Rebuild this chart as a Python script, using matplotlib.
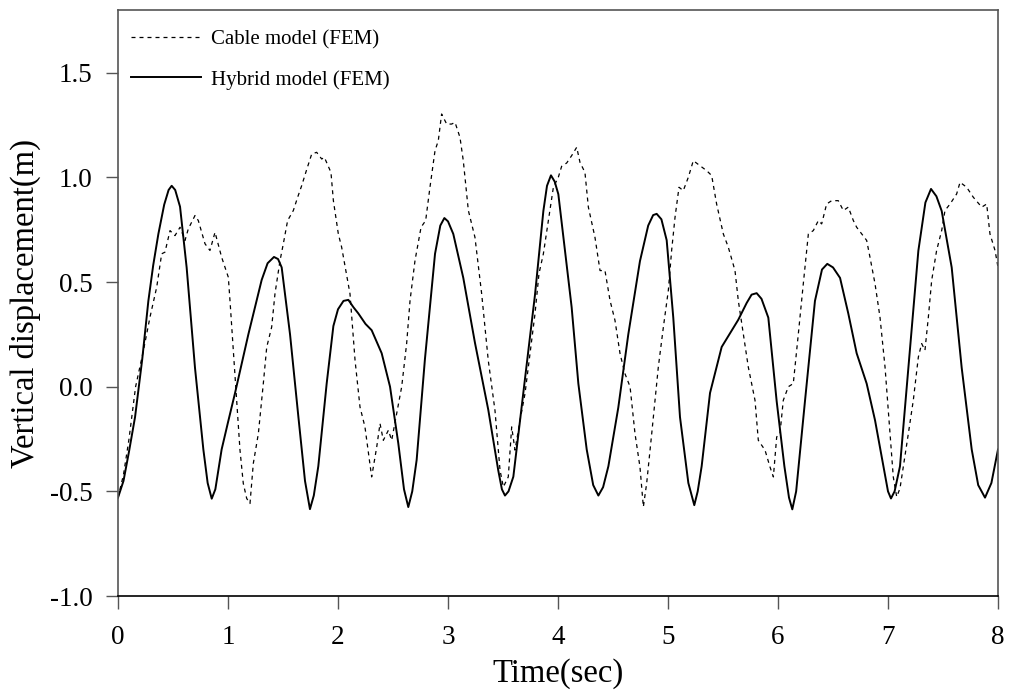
import matplotlib
matplotlib.use("Agg")
import matplotlib.pyplot as plt

plt.rcParams["font.family"] = ["Liberation Serif", "DejaVu Serif"]
plt.rcParams["axes.unicode_minus"] = False

# hybrid model (FEM) response, time [s] / vertical displacement [m]
hybrid_t = [0.00, 0.05, 0.10, 0.155, 0.22, 0.276, 0.32, 0.367, 0.42, 0.46, 0.488, 0.52, 0.564,
            0.624, 0.70, 0.776, 0.815, 0.852, 0.885, 0.942, 1.00, 1.064, 1.185, 1.306, 1.36,
            1.418, 1.455, 1.488, 1.564, 1.64, 1.70, 1.745, 1.78, 1.821, 1.897, 1.958, 2.00,
            2.05, 2.094, 2.14, 2.185, 2.25, 2.306, 2.397, 2.473, 2.548, 2.60, 2.639, 2.675,
            2.715, 2.79, 2.882, 2.93, 2.967, 3.00, 3.048, 3.139, 3.245, 3.366, 3.457, 3.49,
            3.518, 3.55, 3.594, 3.685, 3.791, 3.867, 3.90, 3.936, 3.97, 4.003, 4.064, 4.124,
            4.185, 4.261, 4.32, 4.367, 4.41, 4.458, 4.548, 4.639, 4.745, 4.82, 4.865, 4.897,
            4.94, 4.988, 5.048, 5.109, 5.185, 5.239, 5.27, 5.306, 5.382, 5.488, 5.639, 5.715,
            5.76, 5.806, 5.85, 5.912, 5.988, 6.058, 6.10, 6.13, 6.165, 6.245, 6.336, 6.40,
            6.448, 6.50, 6.564, 6.639, 6.715, 6.806, 6.882, 6.958, 7.00, 7.027, 7.06, 7.109,
            7.185, 7.276, 7.34, 7.391, 7.44, 7.488, 7.579, 7.67, 7.761, 7.82, 7.882, 7.94, 8.00]
hybrid_u = [-0.53, -0.45, -0.31, -0.145, 0.13, 0.41, 0.58, 0.73, 0.87, 0.94, 0.96, 0.94, 0.86,
            0.57, 0.09, -0.30, -0.46, -0.535, -0.49, -0.30, -0.17, -0.03, 0.25, 0.51, 0.59,
            0.62, 0.61, 0.57, 0.25, -0.145, -0.45, -0.585, -0.52, -0.38, 0.015, 0.29, 0.37,
            0.41, 0.415, 0.38, 0.35, 0.30, 0.27, 0.16, 0.00, -0.27, -0.49, -0.575, -0.50,
            -0.35, 0.13, 0.635, 0.77, 0.806, 0.79, 0.73, 0.52, 0.21, -0.11, -0.40, -0.49,
            -0.52, -0.50, -0.43, -0.03, 0.44, 0.84, 0.96, 1.01, 0.98, 0.92, 0.65, 0.38,
            0.015, -0.30, -0.47, -0.52, -0.48, -0.38, -0.10, 0.25, 0.60, 0.77, 0.82, 0.826,
            0.80, 0.70, 0.33, -0.145, -0.46, -0.566, -0.50, -0.38, -0.03, 0.19, 0.32, 0.40,
            0.44, 0.447, 0.42, 0.33, -0.07, -0.38, -0.53, -0.586, -0.50, -0.07, 0.41, 0.56,
            0.587, 0.57, 0.52, 0.35, 0.16, 0.015, -0.16, -0.38, -0.50, -0.534, -0.50, -0.38,
            0.09, 0.65, 0.88, 0.945, 0.91, 0.84, 0.57, 0.09, -0.30, -0.47, -0.53, -0.46, -0.30]

# cable model (FEM) response
cable_t = [0.00, 0.05, 0.10, 0.16, 0.23, 0.291, 0.352, 0.397, 0.427, 0.473, 0.518, 0.564, 0.609,
           0.639, 0.70, 0.730, 0.791, 0.836, 0.882, 0.942, 1.003, 1.018, 1.048, 1.079, 1.109,
           1.139, 1.17, 1.20, 1.23, 1.276, 1.321, 1.352, 1.397, 1.427, 1.473, 1.503, 1.542,
           1.594, 1.633, 1.67, 1.715, 1.761, 1.806, 1.852, 1.876, 1.936, 1.958, 2.003, 2.033,
           2.109, 2.155, 2.20, 2.245, 2.306, 2.352, 2.382, 2.412, 2.458, 2.488, 2.533, 2.579,
           2.624, 2.655, 2.70, 2.755, 2.797, 2.836, 2.882, 2.912, 2.942, 2.988, 3.033, 3.064,
           3.109, 3.139, 3.185, 3.245, 3.306, 3.366, 3.427, 3.473, 3.503, 3.548, 3.579, 3.609,
           3.655, 3.70, 3.745, 3.791, 3.827, 3.867, 3.912, 3.958, 4.003, 4.033, 4.079, 4.124,
           4.17, 4.20, 4.245, 4.276, 4.336, 4.382, 4.427, 4.473, 4.518, 4.564, 4.609, 4.655,
           4.70, 4.745, 4.776, 4.806, 4.852, 4.912, 4.958, 5.003, 5.033, 5.064, 5.10, 5.139,
           5.185, 5.23, 5.291, 5.352, 5.397, 5.442, 5.503, 5.548, 5.609, 5.639, 5.685, 5.73,
           5.791, 5.821, 5.882, 5.927, 5.958, 5.988, 6.018, 6.048, 6.094, 6.139, 6.185, 6.23,
           6.276, 6.321, 6.367, 6.397, 6.442, 6.488, 6.548, 6.594, 6.639, 6.685, 6.715, 6.761,
           6.806, 6.836, 6.882, 6.927, 6.973, 7.018, 7.048, 7.079, 7.109, 7.139, 7.185, 7.23,
           7.276, 7.306, 7.336, 7.367, 7.397, 7.442, 7.488, 7.518, 7.564, 7.624, 7.655, 7.715,
           7.776, 7.852, 7.897, 7.927, 7.973, 8.00]
cable_u = [-0.53, -0.42, -0.25, 0.00, 0.17, 0.333, 0.476, 0.635, 0.643, 0.746, 0.722, 0.762, 0.699,
           0.754, 0.818, 0.794, 0.683, 0.651, 0.738, 0.619, 0.523, 0.412, 0.174, -0.065, -0.303,
           -0.462, -0.534, -0.558, -0.367, -0.224, 0.015, 0.189, 0.285, 0.444, 0.603, 0.683, 0.794,
           0.842, 0.905, 0.961, 1.037, 1.112, 1.12, 1.088, 1.096, 1.024, 0.889, 0.73, 0.667,
           0.444, 0.126, -0.097, -0.192, -0.431, -0.288, -0.176, -0.256, -0.208, -0.256, -0.128, 0.00,
           0.206, 0.412, 0.603, 0.762, 0.794, 0.953, 1.128, 1.176, 1.303, 1.255, 1.255, 1.263,
           1.191, 1.08, 0.842, 0.714, 0.444, 0.126, -0.113, -0.399, -0.479, -0.431, -0.192, -0.303,
           -0.16, -0.033, 0.158, 0.349, 0.54, 0.635, 0.794, 0.953, 1.001, 1.053, 1.069, 1.104,
           1.144, 1.072, 1.024, 0.858, 0.714, 0.555, 0.555, 0.412, 0.317, 0.158, 0.062, 0.00,
           -0.224, -0.383, -0.574, -0.462, -0.224, 0.094, 0.285, 0.46, 0.651, 0.81, 0.953, 0.937,
           1.001, 1.08, 1.056, 1.032, 1.009, 0.873, 0.73, 0.667, 0.555, 0.412, 0.253, 0.094,
           -0.065, -0.256, -0.303, -0.383, -0.431, -0.24, -0.224, -0.065, 0.00, 0.015, 0.253, 0.492,
           0.73, 0.746, 0.794, 0.778, 0.873, 0.889, 0.889, 0.842, 0.858, 0.794, 0.762, 0.73,
           0.699, 0.619, 0.492, 0.333, 0.094, -0.224, -0.431, -0.526, -0.486, -0.383, -0.224, -0.065,
           0.142, 0.206, 0.174, 0.333, 0.508, 0.651, 0.746, 0.842, 0.873, 0.921, 0.977, 0.953,
           0.905, 0.858, 0.873, 0.73, 0.651, 0.571]

x_ticks = [0, 1, 2, 3, 4, 5, 6, 7, 8]
y_ticks = [-1.0, -0.5, 0.0, 0.5, 1.0, 1.5]

fig = plt.figure(figsize=(10.09, 6.92), dpi=100, facecolor="white")
ax = fig.add_axes([118 / 1009, 96 / 692, 880 / 1009, 586 / 692])

ax.plot(cable_t, cable_u, color="black", lw=0.9, dashes=(3.2, 3.2), label="Cable model (FEM)")
ax.plot(hybrid_t, hybrid_u, color="black", lw=1.4, label="Hybrid model (FEM)")

ax.set_xlim(0, 8)
ax.set_ylim(-1.0, 1.8)
ax.set_xticks(x_ticks)
ax.set_yticks(y_ticks)
ax.set_yticklabels([f"{v:.1f}" for v in y_ticks])
ax.tick_params(direction="out", length=9, width=1, labelsize=19.5, color="#555555")
ax.tick_params(axis="x", pad=12)
ax.tick_params(axis="y", pad=9.5)

for side in ("top", "right", "left"):
    ax.spines[side].set_color("#555555")
ax.spines["bottom"].set_color("black")
for sp in ax.spines.values():
    sp.set_linewidth(1.2)

ax.set_xlabel("Time(sec)", fontsize=23.5, labelpad=6)
ax.set_ylabel("Vertical displacement(m)", fontsize=23.5, labelpad=6)

ax.legend(loc="upper left", bbox_to_anchor=(0, 1 - 7 / 586), frameon=False, fontsize=15,
          handlelength=3.4, handletextpad=0.45, labelspacing=1.0,
          borderaxespad=0.3, borderpad=0.3)

fig.savefig("out.png", dpi=100, facecolor="white")
